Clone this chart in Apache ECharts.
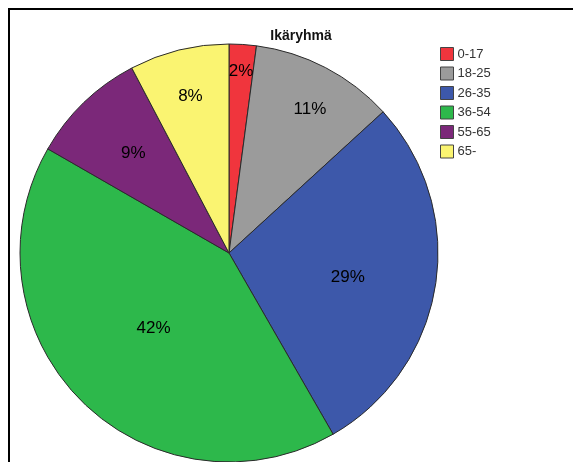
<!DOCTYPE html>
<html>
<head>
<meta charset="utf-8">
<script src="https://cdn.jsdelivr.net/npm/echarts@6/dist/echarts.min.js"></script>
<style>
  html, body { margin: 0; padding: 0; background: #fff; }
  #chart { width: 573px; height: 462px; }
</style>
</head>
<body>
<div id="chart"></div>
<script>
// age groups and their shares (%)
const categories = ['0-17', '18-25', '26-35', '36-54', '55-65', '65-'];
const shares = [2.1, 11.1, 28.5, 41.6, 9.0, 7.7];

const colors = ['#f0353d', '#9b9b9b', '#3d58aa', '#2db84b', '#7b2879', '#faf471'];
// label placement: fraction of radius, and small angle nudge (deg)
const labelRadius = [0.87, 0.79, 0.58, 0.51, 0.66, 0.77];
const labelShift = [0, 1.8, 2.6, 0, 0, 0];

const cx = 229, cy = 253, R = 209;

const chart = echarts.init(document.getElementById('chart'));

const total = shares.reduce((a, b) => a + b, 0);
let acc = 0;
const midAngles = shares.map((v, i) => {
  const mid = (acc + v / 2) / total * Math.PI * 2 + labelShift[i] * Math.PI / 180;
  acc += v;
  return mid;
});

chart.setOption({
  animation: false,
  color: colors,
  title: {
    text: 'Ikäryhmä',
    left: 296,
    top: 24,
    textAlign: 'center',
    textStyle: { fontFamily: 'Liberation Sans, Arial', fontSize: 14, fontWeight: 'bold', color: '#111' },
  },
  legend: {
    orient: 'vertical',
    left: 440,
    top: 47,
    padding: 0,
    itemWidth: 13,
    itemHeight: 13,
    itemGap: 5.5,
    icon: 'rect',
    itemStyle: { borderColor: '#444', borderWidth: 1 },
    textStyle: { fontFamily: 'Liberation Sans, Arial', fontSize: 13, color: '#333', padding: [0, 0, 0, -1] },
    data: categories,
  },
  graphic: [
    {
      type: 'rect',
      shape: { x: 9, y: 9, width: 700, height: 600 },
      style: { fill: 'none', stroke: '#000', lineWidth: 2 },
      silent: true,
    },
  ],
  series: [
    {
      type: 'pie',
      center: [cx, cy],
      radius: R,
      startAngle: 90,
      clockwise: true,
      avoidLabelOverlap: false,
      itemStyle: { borderColor: '#2a2a2a', borderWidth: 1 },
      emphasis: { disabled: true },
      label: {
        position: 'inside',
        fontFamily: 'Liberation Sans, Arial',
        fontSize: 17,
        color: '#000',
        formatter: (p) => Math.round(p.percent) + '%',
      },
      labelLine: { show: false },
      labelLayout: (p) => {
        const a = midAngles[p.dataIndex];
        const r = R * labelRadius[p.dataIndex];
        return {
          x: cx + Math.sin(a) * r,
          y: cy - Math.cos(a) * r,
          align: 'center',
          verticalAlign: 'middle',
        };
      },
      data: categories.map((name, i) => ({ name, value: shares[i] })),
    },
  ],
});
</script>
</body>
</html>
